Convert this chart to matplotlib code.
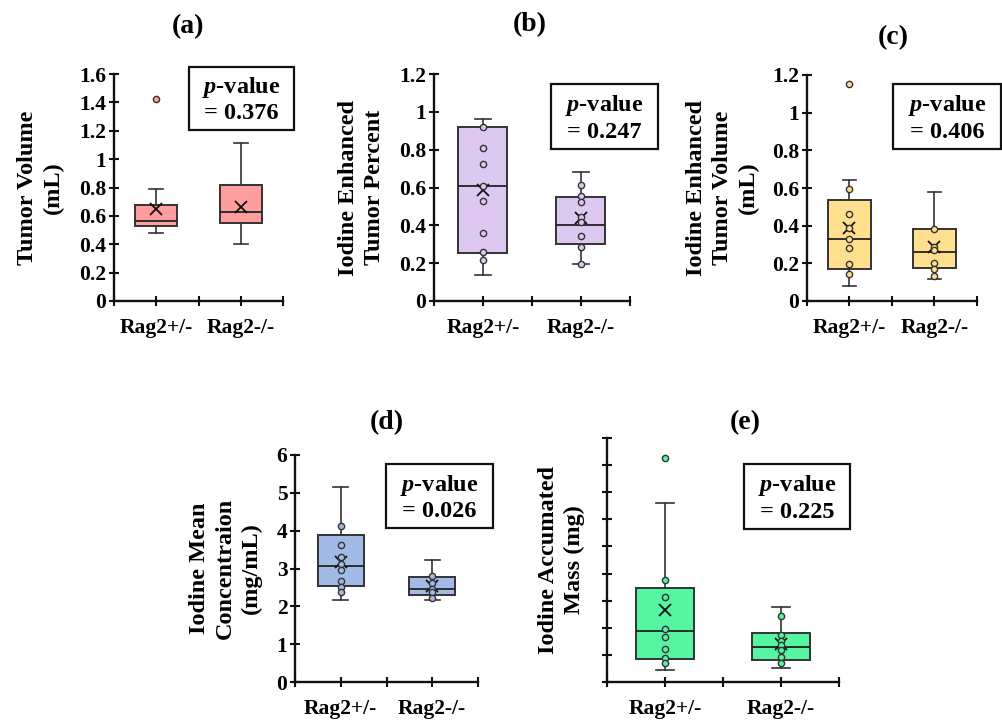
import numpy as np
import matplotlib
matplotlib.use("Agg")
import matplotlib.pyplot as plt
from matplotlib.patches import Rectangle

plt.rcParams['font.family'] = ['Liberation Serif', 'DejaVu Serif']
plt.rcParams['font.weight'] = 'bold'
plt.rcParams['mathtext.fontset'] = 'custom'
plt.rcParams['mathtext.it'] = 'Liberation Serif:italic'
plt.rcParams['mathtext.rm'] = 'Liberation Serif:bold'

W, H = 1003, 724

groups = ['Rag2+/-', 'Rag2-/-']

# ---------------- data ----------------
# (a) tumor volume (mL)
a_q1 = [0.531, 0.547]
a_med = [0.564, 0.625]
a_q3 = [0.679, 0.815]
a_lo = [0.477, 0.404]
a_hi = [0.789, 1.116]
a_mean = [0.648, 0.665]
a_fliers = [[1.426], []]
a_points = [[], []]
a_p = '0.376'

# (b) iodine enhanced tumor percent
b_q1 = [0.256, 0.300]
b_med = [0.608, 0.402]
b_q3 = [0.922, 0.552]
b_lo = [0.136, 0.194]
b_hi = [0.964, 0.684]
b_mean = [0.587, 0.437]
b_fliers = [[], []]
b_points = [[0.922, 0.807, 0.724, 0.610, 0.527, 0.358, 0.257, 0.215],
            [0.613, 0.557, 0.525, 0.446, 0.419, 0.345, 0.284, 0.194]]
b_p = '0.247'

# (c) iodine enhanced tumor volume (mL)
c_q1 = [0.168, 0.173]
c_med = [0.329, 0.262]
c_q3 = [0.534, 0.384]
c_lo = [0.080, 0.115]
c_hi = [0.645, 0.578]
c_mean = [0.389, 0.288]
c_fliers = [[1.151], []]
c_points = [[0.594, 0.460, 0.389, 0.331, 0.283, 0.194, 0.143],
            [0.384, 0.288, 0.270, 0.203, 0.168, 0.134]]
c_p = '0.406'

# (d) iodine mean concentration (mg/mL)
d_q1 = [2.533, 2.295]
d_med = [3.071, 2.471]
d_q3 = [3.883, 2.780]
d_lo = [2.162, 2.162]
d_hi = [5.146, 3.230]
d_mean = [3.18, 2.55]
d_fliers = [[], []]
d_points = [[4.13, 3.63, 3.31, 3.11, 2.95, 2.68, 2.52, 2.37],
            [2.79, 2.62, 2.47, 2.38, 2.21]]
d_p = '0.026'

# (e) iodine accumulated mass (mg), axis without numbers
e_q1 = [0.863, 0.826]
e_med = [1.887, 1.295]
e_q3 = [3.45, 1.825]
e_lo = [0.456, 0.518]
e_hi = [6.62, 2.75]
e_mean = [2.65, 1.39]
e_fliers = [[8.27], []]
e_points = [[3.75, 3.14, 1.95, 1.66, 1.20, 0.90, 0.715],
            [2.45, 1.75, 1.52, 1.37, 1.17, 0.925, 0.715]]
e_p = '0.225'

# ---------------- layout (pixels) ----------------
panels = [
    dict(tag='(a)', ylabel='Tumor Volume\n(mL)', color='#FF9E9E',
         q1=a_q1, med=a_med, q3=a_q3, lo=a_lo, hi=a_hi, mean=a_mean, fl=a_fliers, pts=a_points, p=a_p,
         ax=(114, 74, 283, 301), ylim=1.6, yticks=np.arange(0, 1.61, 0.2), labels=True,
         title=(188, 27), ylab_x=64, pbox=(189, 67, 294, 130)),
    dict(tag='(b)', ylabel='Iodine Enhanced\nTumor Percent', color='#DCC8F0',
         q1=b_q1, med=b_med, q3=b_q3, lo=b_lo, hi=b_hi, mean=b_mean, fl=b_fliers, pts=b_points, p=b_p,
         ax=(434, 74, 630, 301), ylim=1.2, yticks=np.arange(0, 1.21, 0.2), labels=True,
         title=(530, 25), ylab_x=385, pbox=(551, 84, 658, 149)),
    dict(tag='(c)', ylabel='Iodine Enhanced\nTumor Volume\n(mL)', color='#FFE08E',
         q1=c_q1, med=c_med, q3=c_q3, lo=c_lo, hi=c_hi, mean=c_mean, fl=c_fliers, pts=c_points, p=c_p,
         ax=(807, 75, 977, 301), ylim=1.2, yticks=np.arange(0, 1.21, 0.2), labels=True,
         title=(893, 38), ylab_x=759, pbox=(893, 84, 1001, 149)),
    dict(tag='(d)', ylabel='Iodine Mean\nConcentraion\n(mg/mL)', color='#A2BBE6',
         q1=d_q1, med=d_med, q3=d_q3, lo=d_lo, hi=d_hi, mean=d_mean, fl=d_fliers, pts=d_points, p=d_p,
         ax=(295, 455, 478, 682), ylim=6, yticks=np.arange(0, 7, 1), labels=True,
         title=(387, 423), ylab_x=262, pbox=(386, 464, 493, 528)),
    dict(tag='(e)', ylabel='Iodine Accumated\nMass (mg)', color='#55F5A2',
         q1=e_q1, med=e_med, q3=e_q3, lo=e_lo, hi=e_hi, mean=e_mean, fl=e_fliers, pts=e_points, p=e_p,
         ax=(607, 438, 839, 682), ylim=9, yticks=np.arange(0, 10, 1), labels=False,
         title=(745, 423), ylab_x=585, pbox=(744, 464, 850, 529)),
]

fig = plt.figure(figsize=(W / 100, H / 100), dpi=100)

def fx(x):
    return x / W

def fy(y):
    return 1 - y / H

positions = [1, 3]

for pn in panels:
    x0, y0, x1, y1 = pn['ax']
    ax = fig.add_axes([fx(x0), fy(y1), (x1 - x0) / W, (y1 - y0) / H])

    stats = []
    for i in range(2):
        stats.append(dict(med=pn['med'][i], q1=pn['q1'][i], q3=pn['q3'][i],
                          whislo=pn['lo'][i], whishi=pn['hi'][i],
                          mean=pn['mean'][i], fliers=pn['fl'][i]))
    col = pn['color']
    ax.bxp(stats, positions=positions, widths=1.0, capwidths=0.32,
           patch_artist=True, showmeans=True, manage_ticks=False,
           boxprops=dict(facecolor=col, edgecolor='#333333', linewidth=1.4),
           medianprops=dict(color='#222222', linewidth=1.3),
           whiskerprops=dict(color='#333333', linewidth=1.2),
           capprops=dict(color='#333333', linewidth=1.2),
           meanprops=dict(marker='x', markeredgecolor='#111111', markersize=8, markeredgewidth=1.3),
           flierprops=dict(marker='o', markerfacecolor=col, markeredgecolor='#333333',
                           markersize=4.5, markeredgewidth=1.0))
    for i in range(2):
        pts = pn['pts'][i]
        if len(pts):
            ax.plot(np.full(len(pts), positions[i]), pts, 'o', mfc=col, mec='#333333',
                    ms=4.5, mew=1.0, zorder=4)

    ax.set_xlim(0, 4)
    ax.set_ylim(0, pn['ylim'])
    ax.spines['top'].set_visible(False)
    ax.spines['right'].set_visible(False)
    ax.spines['left'].set_linewidth(1.7)
    ax.spines['bottom'].set_linewidth(1.7)
    ax.spines['left'].set_color('#111111')
    ax.spines['bottom'].set_color('#111111')

    ax.set_xticks(positions)
    ax.set_xticklabels(groups)
    ax.set_xticks([0, 2, 4], minor=True)
    ax.set_yticks(pn['yticks'])
    if pn['labels']:
        ax.set_yticklabels(['%g' % round(v, 1) for v in pn['yticks']])
    else:
        ax.set_yticklabels([])
    ax.tick_params(which='both', direction='inout', length=7, width=1.5, color='#111111')
    ax.tick_params(axis='x', labelsize=15.5, pad=9)
    ax.tick_params(axis='y', labelsize=15.5, pad=2)
    ax.set_facecolor('none')

    tx, ty = pn['title']
    fig.text(fx(tx), fy(ty), pn['tag'], ha='center', va='center', fontsize=20, fontweight='bold')

    fig.text(fx(pn['ylab_x']), fy((y0 + y1) / 2), pn['ylabel'], rotation=90,
             ha='right', va='center', multialignment='center', fontsize=17.5,
             fontweight='bold', linespacing=1.3)

    bx0, by0, bx1, by1 = pn['pbox']
    fig.patches.append(Rectangle((fx(bx0), fy(by1)), (bx1 - bx0) / W, (by1 - by0) / H,
                                 transform=fig.transFigure, fill=False,
                                 edgecolor='#111111', linewidth=1.6))
    fig.text(fx((bx0 + bx1) / 2), fy(by0 + (by1 - by0) * 0.33), r'$p$-value',
             ha='center', va='center', fontsize=17.5, fontweight='bold')
    fig.text(fx((bx0 + bx1) / 2), fy(by0 + (by1 - by0) * 0.74), '= ' + pn['p'],
             ha='center', va='center', fontsize=17.5, fontweight='bold')

fig.savefig('out.png', dpi=100)
